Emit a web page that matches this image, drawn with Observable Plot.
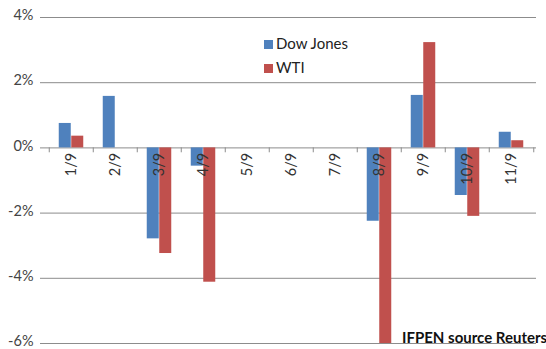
<!DOCTYPE html>
<html>
<head>
<meta charset="utf-8">
<script src="https://cdn.jsdelivr.net/npm/d3@7"></script>
<script src="https://cdn.jsdelivr.net/npm/@observablehq/plot@0.6"></script>
<style>
  html, body { margin: 0; padding: 0; background: #fff; }
  #wrap { position: relative; width: 546px; height: 349px; overflow: hidden; font-family: Lato, "Open Sans", sans-serif; }
  #chart svg { display: block; }
  .legend { position: absolute; left: 264px; font-size: 15px; color: #222; line-height: 1; }
  .legend span.sw { display: inline-block; width: 9px; height: 9px; margin-right: 3px; vertical-align: 0px; }
  #caption { position: absolute; left: 402px; top: 328px; font-size: 15px; font-weight: bold; color: #111; white-space: nowrap; }
</style>
</head>
<body>
<div id="wrap">
  <div id="chart"></div>
  <div class="legend" id="leg1" style="top:36px"><span class="sw" style="background:#4F81BD"></span>Dow Jones</div>
  <div class="legend" id="leg2" style="top:60px"><span class="sw" style="background:#C0504D"></span>WTI</div>
  <div id="caption">IFPEN source Reuters</div>
</div>
<script>
const dates = ["1/9","2/9","3/9","4/9","5/9","6/9","7/9","8/9","9/9","10/9","11/9"];
const dowJones = [0.75, 1.58, -2.79, -0.56, null, null, null, -2.25, 1.61, -1.46, 0.48];
const wti      = [0.36, null, -3.24, -4.12, null, null, null, -6.0, 3.23, -2.10, 0.22];
const yTicks = [-6, -4, -2, 0, 2, 4];
const seriesNames = ["Dow Jones", "WTI"];
const seriesColors = ["#4F81BD", "#C0504D"];

const dj = dates.map((d, i) => ({date: d, value: dowJones[i]})).filter(r => r.value != null);
const oil = dates.map((d, i) => ({date: d, value: wti[i]})).filter(r => r.value != null);

const plot = Plot.plot({
  width: 546,
  height: 349,
  marginLeft: 46,
  marginRight: 10,
  marginTop: 17,
  marginBottom: 6,
  style: {fontFamily: "Lato, 'Open Sans', sans-serif", background: "#fff"},
  x: {domain: dates, padding: 0, axis: null},
  y: {domain: [-6, 4], axis: null},
  marks: [
    Plot.ruleY(yTicks, {stroke: "#8c8c8c", strokeWidth: 1}),
    Plot.axisY({ticks: yTicks, tickFormat: () => "", tickSize: 6, stroke: "#8c8c8c", label: null}),
    Plot.axisY({ticks: yTicks, tickFormat: d => d + "%", tickSize: 0, tickPadding: 13, dy: -2, fontSize: 14.5, color: "#444", label: null}),
    Plot.ruleX([0], {x: () => 0, y1: -6, y2: 4, stroke: "#8c8c8c", frameAnchor: "left"}),
    Plot.ruleX(dates, {x: d => d, y1: 0, y2: -0.15, dx: -22.25, stroke: "#8c8c8c"}),
    Plot.ruleX([dates[dates.length - 1]], {x: d => d, y1: 0, y2: -0.15, dx: 22.25, stroke: "#8c8c8c"}),
    Plot.barY(dj, {x: "date", y: "value", fill: seriesColors[0], insetLeft: 9.75, insetRight: 22.25}),
    Plot.barY(oil, {x: "date", y: "value", fill: seriesColors[1], insetLeft: 22.25, insetRight: 9.75}),
    Plot.text(dates, {x: d => d, y: () => 0, text: d => d, rotate: -90, textAnchor: "end", dy: 5, fontSize: 14.5, fill: "#333"})
  ]
});
document.getElementById("chart").appendChild(plot);
</script>
</body>
</html>
